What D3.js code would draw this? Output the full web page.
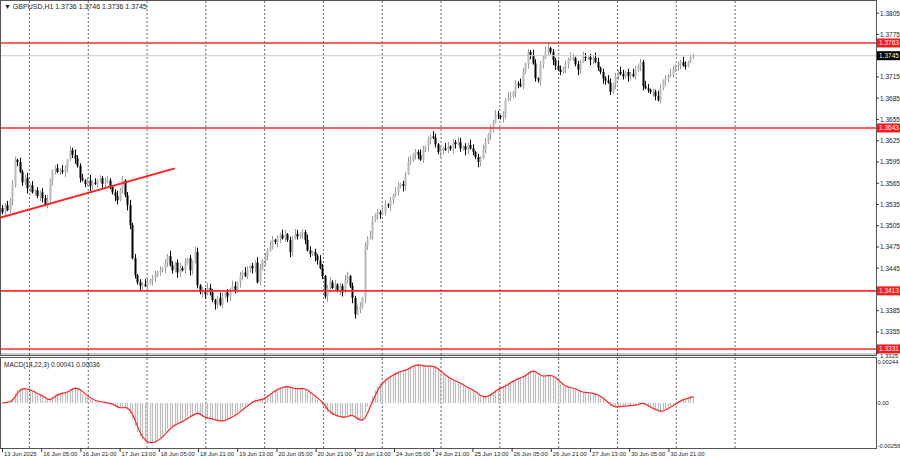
<!DOCTYPE html>
<html><head><meta charset="utf-8">
<script src="https://cdn.jsdelivr.net/npm/d3@7"></script>
<style>body{margin:0;background:#fff}svg{display:block}text{font-family:"Liberation Sans",Arial,sans-serif}</style>
</head><body><svg id="c" width="900" height="460"></svg>
<script>
const closes=[1.3524,1.3534,1.3527,1.3541,1.3562,1.3598,1.3595,1.3581,1.3566,1.3572,1.3558,1.3562,1.3552,1.3555,1.3547,1.3552,1.3544,1.3534,1.3541,1.3569,
1.3583,1.3586,1.3581,1.3583,1.3581,1.3586,1.3598,1.3612,1.3605,1.3600,1.3590,1.3572,1.3569,1.3564,1.3569,1.3561,1.3566,1.3564,1.3569,1.3572,
1.3564,1.3566,1.3569,1.3561,1.3552,1.3547,1.3541,1.3555,1.3569,1.3548,1.3534,1.3506,1.3459,1.3435,1.3425,1.3420,1.3422,1.3420,1.3425,1.3428,
1.3431,1.3434,1.3439,1.3442,1.3445,1.3453,1.3462,1.3449,1.3442,1.3453,1.3439,1.3445,1.3442,1.3453,1.3459,1.3442,1.3453,1.3468,1.3421,1.3411,
1.3414,1.3408,1.3417,1.3411,1.3400,1.3394,1.3403,1.3393,1.3405,1.3411,1.3405,1.3414,1.3420,1.3414,1.3425,1.3435,1.3439,1.3434,1.3442,1.3448,
1.3445,1.3453,1.3425,1.3445,1.3456,1.3462,1.3470,1.3476,1.3485,1.3482,1.3487,1.3492,1.3487,1.3493,1.3485,1.3468,1.3487,1.3493,1.3490,1.3494,
1.3496,1.3485,1.3470,1.3465,1.3468,1.3462,1.3456,1.3445,1.3434,1.3405,1.3417,1.3425,1.3417,1.3422,1.3414,1.3420,1.3411,1.3428,1.3434,1.3420,
1.3403,1.3380,1.3386,1.3391,1.3403,1.3477,1.3487,1.3490,1.3513,1.3521,1.3524,1.3521,1.3524,1.3535,1.3533,1.3541,1.3547,1.3552,1.3561,1.3564,
1.3561,1.3578,1.3595,1.3598,1.3606,1.3609,1.3605,1.3598,1.3612,1.3617,1.3626,1.3631,1.3629,1.3620,1.3609,1.3612,1.3614,1.3612,1.3617,1.3614,
1.3623,1.3620,1.3623,1.3614,1.3617,1.3612,1.3619,1.3614,1.3609,1.3602,1.3595,1.3600,1.3612,1.3623,1.3634,1.3643,1.3651,1.3661,1.3660,1.3658,
1.3662,1.3682,1.3686,1.3688,1.3694,1.3706,1.3705,1.3702,1.3722,1.3734,1.3750,1.3746,1.3734,1.3713,1.3710,1.3733,1.3742,1.3750,1.3756,1.3750,
1.3739,1.3731,1.3725,1.3722,1.3728,1.3733,1.3739,1.3742,1.3742,1.3733,1.3725,1.3736,1.3743,1.3742,1.3743,1.3739,1.3742,1.3736,1.3728,1.3722,
1.3713,1.3710,1.3707,1.3694,1.3705,1.3716,1.3722,1.3719,1.3716,1.3722,1.3716,1.3719,1.3716,1.3725,1.3731,1.3736,1.3702,1.3699,1.3697,1.3694,
1.3694,1.3688,1.3682,1.3699,1.3710,1.3713,1.3716,1.3719,1.3725,1.3731,1.3732,1.3736,1.3731,1.3730,1.3736,1.3742,1.3745];
const firstOpen=1.3530;
// wick lengths per bar (units of 1.5 pips)
const wickUp="3242531423524132435213425314253241352413254213524135241325413524132541352413254132543125413254132541325413254132541325413254132541352413254132541325413254132541325413254132541325413254132541325413254132541325413254132541325413254132541325413254132541325413254132541325413254132";
const wickDn="2413524132541325413254132541352413254132541325413254132541325413254132541325413254132541325413254132541325413254132541325413254132541325413254132541325413254132541325413254132541325413254132541325413254132541325413254132541325413254132541325413254132541325413254132541325413";
const levels=[1.3763,1.3643,1.3413,1.3331];
const lastPrice=1.3745;
const priceTicks=[1.3805,1.3775,1.3715,1.3685,1.3655,1.3625,1.3595,1.3565,1.3535,1.3505,1.3475,1.3445,1.3385,1.3355,1.3325];
const macdTicks=[0.00244,0.00,-0.00256];
const dateLabels=["13 Jun 2025","16 Jun 05:00","16 Jun 21:00","17 Jun 13:00","18 Jun 05:00","18 Jun 21:00","19 Jun 13:00","20 Jun 05:00","20 Jun 21:00","23 Jun 13:00","24 Jun 05:00","24 Jun 21:00","25 Jun 13:00","26 Jun 05:00","26 Jun 21:00","27 Jun 13:00","30 Jun 05:00","30 Jun 21:00"];
const trend=[[-1,1.3516],[69,1.3586]];
const gridHours=[11,35,59,83,107,131,155,179,203,227,251,275,299];

const svg=d3.select("#c");
const W=876;
const x=d3.scaleLinear().domain([0,282]).range([2,2+282*2.45]);
const bx=i=>x(i*282/276);
const y=d3.scaleLinear().domain([1.3325,1.3805]).range([353.2,13.2]);
const ym=d3.scaleLinear().domain([-0.00256,0.00244]).range([447,361]);

svg.append("rect").attr("x",0.5).attr("y",0.5).attr("width",W).attr("height",355).attr("fill","#fff").attr("stroke","#555");
svg.append("rect").attr("x",0.5).attr("y",357.5).attr("width",W).attr("height",91).attr("fill","#fff").attr("stroke","#555");
svg.append("line").attr("x1",1).attr("x2",W).attr("y1",354).attr("y2",354).attr("stroke","#ccc").attr("stroke-width",2);
gridHours.forEach(h=>{[[1,355],[358,448]].forEach(([a,b])=>svg.append("line").attr("x1",x(h)+.5).attr("x2",x(h)+.5).attr("y1",a).attr("y2",b).attr("stroke","#444").attr("stroke-dasharray","2,2").attr("stroke-width",0.8));});

const wk=(s,i)=>{const v=+s[i];return isNaN(v)?1:v;};
const data=closes.map((c,i)=>{const o=i?closes[i-1]:firstOpen;return{i,o,c,h:Math.max(o,c)+wk(wickUp,i)*0.00015,l:Math.min(o,c)-wk(wickDn,i)*0.00015};});
const g=svg.append("g");
data.forEach(d=>{const cx=Math.round(bx(d.i))+.5;const up=d.c>=d.o;const col=up?"#9a9a9a":"#000";
 g.append("line").attr("x1",cx).attr("x2",cx).attr("y1",y(d.h)).attr("y2",y(d.l)).attr("stroke",col).attr("stroke-width",1);
 const t=y(Math.max(d.o,d.c)),b=y(Math.min(d.o,d.c));
 g.append("rect").attr("x",cx-1).attr("y",t).attr("width",2).attr("height",Math.max(1,b-t)).attr("fill",up?"#b8b8b8":"#000");});

svg.append("line").attr("x1",1).attr("x2",W).attr("y1",y(lastPrice)).attr("y2",y(lastPrice)).attr("stroke","#c8c8c8");
levels.forEach(v=>svg.append("line").attr("x1",1).attr("x2",W).attr("y1",y(v)).attr("y2",y(v)).attr("stroke","#ff2a2a").attr("stroke-width",1.6));
svg.append("line").attr("x1",bx(trend[0][0])).attr("y1",y(trend[0][1])).attr("x2",bx(trend[1][0])).attr("y2",y(trend[1][1])).attr("stroke","#ff2020").attr("stroke-width",1.8);

priceTicks.forEach(v=>{const dy=v===1.3325?5:2.5;svg.append("line").attr("x1",W).attr("x2",W+3).attr("y1",y(v)).attr("y2",y(v)).attr("stroke","#333");
 svg.append("text").attr("x",W+4).attr("y",y(v)+dy).attr("font-size",v===1.3325?6:6.5).attr("fill","#222").text(v.toFixed(4));});
levels.forEach(v=>{svg.append("rect").attr("x",W+1).attr("y",y(v)-4.5).attr("width",23).attr("height",9).attr("fill","#ff1a1a");
 svg.append("text").attr("x",W+3).attr("y",y(v)+2.5).attr("font-size",6.5).attr("fill","#fff").text(v.toFixed(4));});
svg.append("rect").attr("x",W+1).attr("y",y(lastPrice)-4.5).attr("width",23).attr("height",9).attr("fill","#000");
svg.append("text").attr("x",W+3).attr("y",y(lastPrice)+2.5).attr("font-size",6.5).attr("fill","#fff").text(lastPrice.toFixed(4));

function ema(arr,n){const k=2/(n+1);let e=arr[0];return arr.map(v=>e=v*k+e*(1-k));}
const e14=ema(closes,14),e22=ema(closes,22);
const macd=closes.map((c,i)=>e14[i]-e22[i]);
const sig=macd.map((m,i)=>d3.mean(macd.slice(Math.max(0,i-2),i+1)));
macd.forEach((m,i)=>svg.append("line").attr("x1",Math.round(bx(i))+.5).attr("x2",Math.round(bx(i))+.5).attr("y1",ym(0)).attr("y2",ym(m)).attr("stroke","#bdbdbd").attr("stroke-width",1.2));
svg.append("path").attr("d",d3.line().x((d,i)=>bx(i)).y(d=>ym(d))(sig)).attr("fill","none").attr("stroke","#ff2020").attr("stroke-width",1.2);
macdTicks.forEach(v=>svg.append("text").attr("x",W+1.5).attr("y",ym(v)+(v<0?1:2.5)).attr("font-size",5.8).attr("fill","#222").text(v===0?"0.00":v.toFixed(5)));

dateLabels.forEach((t,k)=>{const xx=x(k*16);svg.append("line").attr("x1",xx+.5).attr("x2",xx+.5).attr("y1",448).attr("y2",452).attr("stroke","#333");
 svg.append("text").attr("x",xx+2).attr("y",456).attr("font-size",5.9).attr("fill","#222").text(t);});

svg.append("text").attr("x",4).attr("y",9).attr("font-size",7).attr("fill","#222").text("▼ GBPUSD,H1  1.3736 1.3746 1.3736 1.3745");
svg.append("text").attr("x",4).attr("y",367).attr("font-size",6.5).attr("fill","#222").text("MACD(14,22,3) 0.00041 0.00036");
</script></body></html>
